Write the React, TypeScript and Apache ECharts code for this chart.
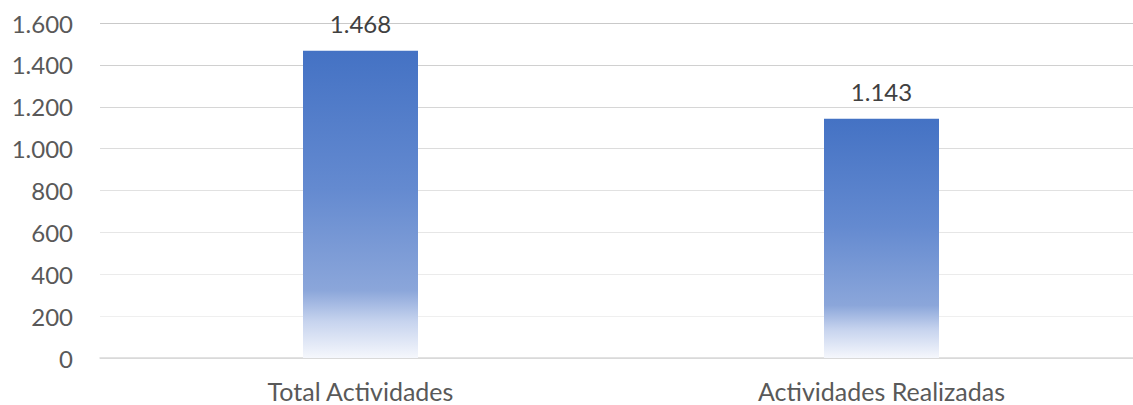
import React, { useEffect, useRef } from "react";
import * as echarts from "echarts";

const categories = ["Total Actividades", "Actividades Realizadas"];
const values = [1468, 1143];
const yTicks = [0, 200, 400, 600, 800, 1000, 1200, 1400, 1600];

const fmt = (v: number) => String(v).replace(/\B(?=(\d{3})+(?!\d))/g, ".");
const FONT = "Lato, 'Open Sans', sans-serif";

export default function App() {
  const ref = useRef<HTMLDivElement>(null);
  useEffect(() => {
    document.body.style.margin = "0";
    document.body.style.overflow = "hidden";
    const chart = echarts.init(ref.current!, null, { renderer: "svg" });
    chart.setOption({
      animation: false,
      grid: { left: 100, right: 0, top: 23, bottom: 47, containLabel: false },
      xAxis: {
        type: "category",
        data: categories,
        axisLine: { show: true, lineStyle: { color: "#d9d9d9", width: 1.5 } },
        axisTick: { show: false },
        axisLabel: {
          margin: 20,
          fontSize: 25,
          lineHeight: 26,
          color: "#595959",
          fontFamily: FONT,
        },
      },
      yAxis: {
        type: "value",
        min: yTicks[0],
        max: yTicks[yTicks.length - 1],
        interval: 200,
        axisLine: { show: false },
        axisTick: { show: false },
        axisLabel: {
          margin: 27,
          fontSize: 24,
          color: "#595959",
          fontFamily: FONT,
          formatter: (v: number) => fmt(v),
        },
        splitLine: {
          lineStyle: {
            width: 1,
            color: [
              "#d9d9d9",
              "#efefef",
              "#ebebeb",
              "#e6e6e6",
              "#e1e1e1",
              "#dcdcdc",
              "#d6d6d6",
              "#d0d0d0",
              "#c9c9c9",
            ],
          },
        },
      },
      series: [
        {
          type: "bar",
          data: values,
          barWidth: 115,
          itemStyle: {
            color: {
              type: "linear",
              x: 0,
              y: 0,
              x2: 0,
              y2: 1,
              colorStops: [
                { offset: 0, color: "#4472C4" },
                { offset: 0.45, color: "#648AD0" },
                { offset: 0.78, color: "#8BA6DA" },
                { offset: 0.88, color: "#C6D3EE" },
                { offset: 1, color: "#F5F7FC" },
              ],
            },
          },
          label: {
            show: true,
            position: "top",
            distance: 15,
            fontSize: 24,
            color: "#404040",
            fontFamily: FONT,
            formatter: (p: any) => fmt(p.value),
          },
        },
      ],
    });
    return () => chart.dispose();
  }, []);
  return <div ref={ref} style={{ width: 1142, height: 405 }} />;
}
